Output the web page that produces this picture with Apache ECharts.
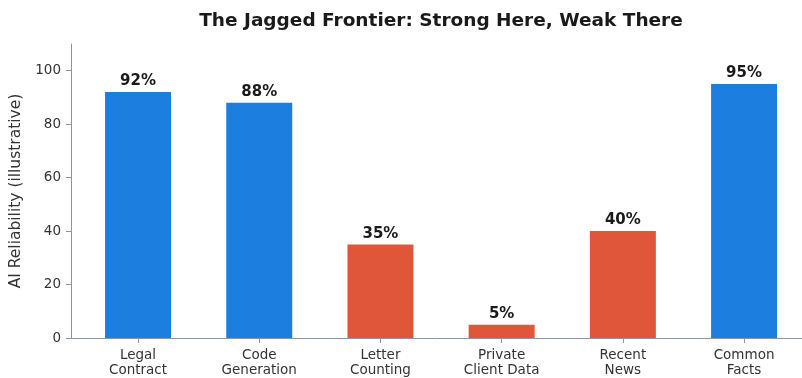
<!DOCTYPE html>
<html>
<head>
<meta charset="utf-8">
<script src="https://cdn.jsdelivr.net/npm/echarts@6/dist/echarts.min.js"></script>
<style>
html,body{margin:0;padding:0;background:#fff;}
#chart{width:802px;height:378px;}
</style>
</head>
<body>
<div id="chart"></div>
<script>
const categories = ['Legal\nContract', 'Code\nGeneration', 'Letter\nCounting', 'Private\nClient Data', 'Recent\nNews', 'Common\nFacts'];
const reliability = [92, 88, 35, 5, 40, 95];
const groups = ['strong', 'strong', 'weak', 'weak', 'weak', 'strong'];
const yTicks = [0, 20, 40, 60, 80, 100];

const palette = { strong: '#1c7fe0', weak: '#e0563b' };
const idx = categories.map((c, i) => i);
const axisColor = '#8c95a6';
const font = 'DejaVu Sans';

const chart = echarts.init(document.getElementById('chart'), null, { renderer: 'canvas' });
chart.setOption({
  animation: false,
  backgroundColor: '#ffffff',
  textStyle: { fontFamily: font },
  title: {
    text: 'The Jagged Frontier: Strong Here, Weak There',
    left: 436,
    textAlign: 'center',
    top: 7,
    textStyle: { fontFamily: font, fontSize: 18.5, fontWeight: 'bold', color: '#1a1a1a' }
  },
  grid: { left: 71, right: 0, top: 44, bottom: 39, containLabel: false },
  xAxis: {
    type: 'value',
    min: -0.553,
    max: 5.478,
    splitLine: { show: false },
    axisLine: { show: true, onZero: false, lineStyle: { color: axisColor, width: 1 } },
    axisTick: { show: true, customValues: idx, length: 5, lineStyle: { color: axisColor } },
    axisLabel: {
      customValues: idx,
      formatter: v => categories[Math.round(v)],
      fontFamily: font, fontSize: 13.5, color: '#333', lineHeight: 15, margin: 10, align: 'center'
    }
  },
  yAxis: {
    type: 'value',
    min: 0,
    max: 110,
    name: 'AI Reliability (illustrative)',
    nameLocation: 'middle',
    nameRotate: 90,
    nameGap: 41,
    nameTextStyle: { fontFamily: font, fontSize: 15.5, color: '#333' },
    splitLine: { show: false },
    axisLine: { show: true, onZero: false, lineStyle: { color: axisColor, width: 1 } },
    axisTick: { show: true, customValues: yTicks, length: 5, lineStyle: { color: axisColor } },
    axisLabel: { customValues: yTicks, fontFamily: font, fontSize: 13.5, color: '#333', margin: 10 }
  },
  series: [{
    type: 'bar',
    barWidth: 66,
    data: reliability.map((v, i) => ({ value: [i, v], itemStyle: { color: palette[groups[i]] } })),
    label: {
      show: true,
      position: 'top',
      distance: 3,
      formatter: p => p.value[1] + '%',
      fontFamily: font, fontSize: 15, fontWeight: 'bold', color: '#1a1a1a'
    }
  }]
});
</script>
</body>
</html>
